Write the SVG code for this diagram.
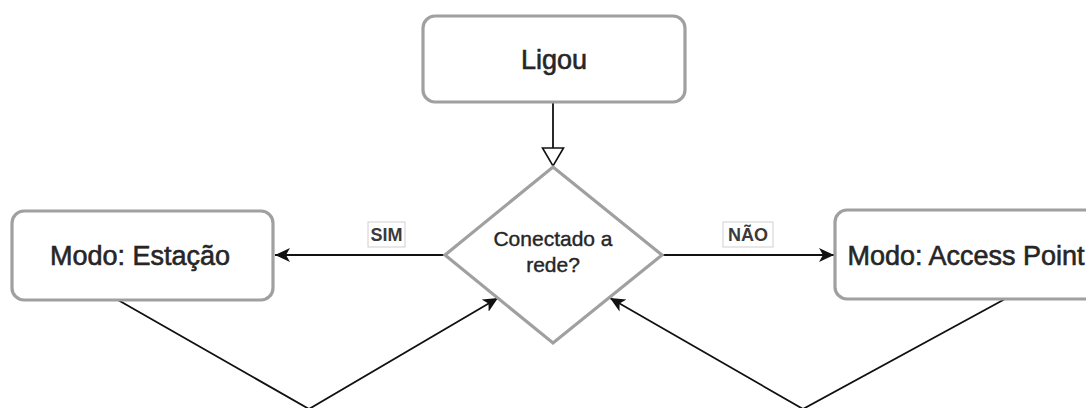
<svg xmlns="http://www.w3.org/2000/svg" width="1086" height="408" viewBox="0 0 1086 408">
  <style>
    .box { fill: #ffffff; stroke: #a0a0a0; stroke-width: 3.2; }
    .label { font-family: "Liberation Sans", Arial, sans-serif; fill: #262626; stroke: #262626; stroke-width: 0.6; text-anchor: middle; }
    .big { font-size: 27px; }
    .small { font-size: 21px; stroke-width: 0.4; }
    .edge { fill: none; stroke: #111111; stroke-width: 1.8; }
    .tag { fill: #ffffff; stroke: #cfcfcf; stroke-width: 1; }
    .tagtext { font-family: "Liberation Sans", Arial, sans-serif; font-size: 18px; font-weight: bold; fill: #3a3a3a; text-anchor: middle; }
  </style>
  <defs>
    <marker id="arrow" markerUnits="userSpaceOnUse" markerWidth="18" markerHeight="16" refX="15" refY="7" orient="auto">
      <path d="M0,0 L15,7 L0,14 L4,7 Z" fill="#111111"/>
    </marker>
    <marker id="hollow" markerUnits="userSpaceOnUse" markerWidth="24" markerHeight="26" refX="19" refY="11.5" orient="auto">
      <path d="M1,1 L19,11.5 L1,22 Z" fill="#ffffff" stroke="#111111" stroke-width="1.6"/>
    </marker>
  </defs>

  <rect width="1086" height="408" fill="#ffffff"/>

  <!-- connectors -->
  <g id="connectors">
    <line class="edge" x1="553" y1="102" x2="553" y2="166" marker-end="url(#hollow)"/>
    <line class="edge" x1="445" y1="255" x2="275" y2="255" marker-end="url(#arrow)"/>
    <line class="edge" x1="662" y1="255" x2="834" y2="255" marker-end="url(#arrow)"/>
    <polyline class="edge" points="118,300 309,409 498,298" marker-end="url(#arrow)"/>
    <polyline class="edge" points="1005,299 803,409 610,298" marker-end="url(#arrow)"/>
    <!-- edge labels -->
    <rect class="tag" x="368" y="222" width="37" height="25"/>
    <text class="tagtext" x="386.5" y="241">SIM</text>
    <rect class="tag" x="723" y="222" width="50" height="25"/>
    <text class="tagtext" x="748" y="241">NÃO</text>
  </g>

  <g id="ligou">
    <rect class="box" x="423" y="16" width="262" height="86" rx="12"/>
    <text class="label big" x="554" y="69">Ligou</text>
  </g>

  <g id="conectado">
    <polygon class="box" points="553,167 662,255 553,343 445,255"/>
    <text class="label small" x="553" y="246">Conectado a</text>
    <text class="label small" x="553" y="272">rede?</text>
  </g>

  <g id="estacao">
    <rect class="box" x="12" y="211" width="261" height="89" rx="12"/>
    <text class="label big" x="140" y="265">Modo: Estação</text>
  </g>

  <g id="access-point">
    <rect class="box" x="835" y="210" width="262" height="89" rx="12"/>
    <text class="label big" x="966" y="265">Modo: Access Point</text>
  </g>
</svg>
